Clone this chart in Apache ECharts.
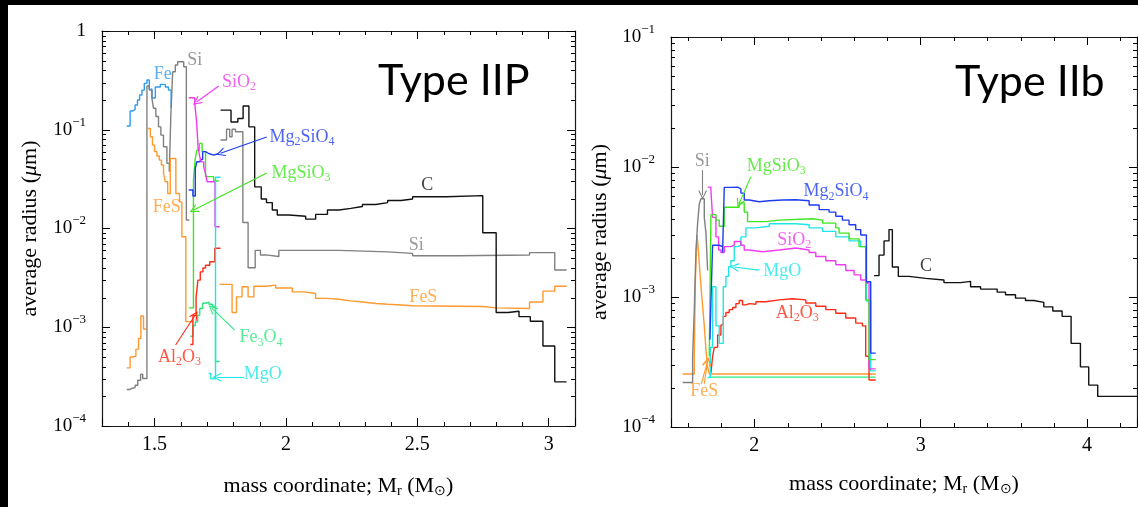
<!DOCTYPE html>
<html><head><meta charset="utf-8">
<script src="https://cdn.jsdelivr.net/npm/echarts@6/dist/echarts.min.js"></script>
<style>html,body{margin:0;padding:0;background:#fff}#c{width:1138px;height:507px}</style>
</head><body><div id="c"></div>
<script>
// ---------------- Type IIP (left panel) data: bin edges (x) and radius values (y) ----------------
const IIP_Fe_x = [1.394,1.407,1.417,1.426,1.435,1.443,1.452,1.461,1.471,1.480,1.490,1.503,1.522,1.541,1.553,1.563];
const IIP_Fe_y = [0.109,0.155,0.160,0.178,0.200,0.225,0.252,0.295,0.319,0.258,0.210,0.271,0.288,0.271,0.252,0.166];
const IIP_Si1_x = [1.394,1.405,1.413,1.426,1.436,1.447,1.455,1.471,1.480,1.490,1.496,1.505,1.515,1.524,1.534,1.547,1.556,1.562,1.569,1.579,1.588,1.611,1.621,1.632];
const IIP_Si1_y = [2.34e-4,2.40e-4,2.45e-4,2.59e-4,2.91e-4,3.35e-4,3.03e-4,0.277,0.252,0.208,0.165,0.136,0.107,0.0883,0.0673,0.0457,0.0375,0.141,0.387,0.453,0.489,0.435,0.0122,0.0122];
const IIP_Si2_x = [1.751,1.774,1.786,1.795,1.808,1.836,1.856,1.883,1.903,1.923,1.973,2.202,2.387,2.482,2.660,2.927,3.023,3.068];
const IIP_Si2_y = [0.0787,0.101,0.085,0.101,0.0955,0.0115,0.0040,0.0060,0.0054,0.0052,0.0060,0.0058,0.0056,0.0053,0.0054,0.0057,0.0038,0.0038];
const IIP_C_x = [1.751,1.791,1.817,1.837,1.859,1.881,1.906,1.926,1.948,1.967,2.011,2.075,2.113,2.158,2.202,2.247,2.291,2.342,2.387,2.438,2.482,2.610,2.749,2.800,2.845,2.887,2.930,2.978,3.023,3.068];
const IIP_C_y = [0.158,0.120,0.130,0.174,0.107,0.0264,0.0199,0.0183,0.0154,0.0137,0.0133,0.01245,0.0139,0.0154,0.0160,0.0167,0.0175,0.0183,0.0192,0.0199,0.0210,0.0215,0.00906,0.00141,0.00145,0.00128,0.00115,0.000645,0.00028,0.00028];
const IIP_FeS1_x = [1.394,1.407,1.417,1.429,1.439,1.448,1.458,1.468];
const IIP_FeS1_y = [3.88e-4,5.0e-4,5.1e-4,6.0e-4,7.7e-4,1.3e-3,9.6e-4,9.6e-4];
const IIP_FeS2_x = [1.474,1.484,1.492,1.500,1.509,1.518,1.526,1.534,1.541,1.550,1.560,1.581,1.595,1.604,1.619,1.649];
const IIP_FeS2_y = [0.103,0.085,0.070,0.060,0.0542,0.0493,0.0440,0.0362,0.0297,0.0226,0.0512,0.0226,0.0186,0.00824,0.00114,0.00114];
const IIP_FeS3_x = [1.747,1.795,1.812,1.833,1.856,1.878,1.923,1.961,2.024,2.069,2.113,2.158,2.202,2.247,2.291,2.342,2.387,2.438,2.482,2.749,2.800,2.927,2.978,3.023,3.068];
const IIP_FeS3_y = [0.00272,0.00141,0.00203,0.00257,0.00203,0.00260,0.00267,0.00250,0.00228,0.00220,0.00196,0.00192,0.00185,0.00180,0.00174,0.00171,0.00168,0.00165,0.00162,0.00157,0.00155,0.00180,0.00232,0.00260,0.00260];
const IIP_SiO2_x = [1.630,1.653,1.660,1.666,1.672,1.678,1.687,1.694,1.700,1.730,1.748];
const IIP_SiO2_y = [0.211,0.185,0.12,0.0648,0.0533,0.0473,0.0421,0.0362,0.0297,0.0104,0.0104];
const IIP_Mg2SiO4_x = [1.630,1.646,1.655,1.661,1.674,1.683,1.694,1.706,1.725,1.744];
const IIP_Mg2SiO4_y = [0.0245,0.0213,0.0406,0.0474,0.050,0.060,0.0575,0.0554,0.0575,0.0575];
const IIP_MgSiO3_x = [1.630,1.648,1.655,1.661,1.671,1.681,1.694,1.725,1.744];
const IIP_MgSiO3_y = [0.00157,0.031,0.0513,0.062,0.0727,0.060,0.0335,0.0303,0.0303];
const IIP_Fe3O4_x = [1.636,1.646,1.655,1.664,1.672,1.683,1.694,1.707,1.720,1.732,1.748];
const IIP_Fe3O4_y = [8.1e-4,1.04e-3,1.13e-3,1.32e-3,1.55e-3,1.75e-3,1.80e-3,1.71e-3,1.62e-3,4.5e-4,4.5e-4];
const IIP_Al2O3_x = [1.636,1.646,1.658,1.665,1.674,1.684,1.694,1.710,1.729,1.751];
const IIP_Al2O3_y = [6.7e-4,1.32e-3,1.99e-3,3.0e-3,3.64e-3,3.98e-3,4.25e-3,4.6e-3,6.3e-3,6.3e-3];
const IIP_MgO_x = [1.706,1.714,1.732,1.751];
const IIP_MgO_y = [3.4e-4,3.0e-4,0.033,0.033];

// ---------------- Type IIb (right panel) data ----------------
const IIb_Si_x = [1.570,1.630,1.640,1.650,1.660,1.670,1.680,1.700,1.710,1.720,1.724];
const IIb_Si_y = [2.2e-4,3.5e-4,8.0e-4,0.0023,0.0037,0.0052,0.0057,0.0041,0.0031,0.0016,0.0016];
const IIb_FeS_x = [1.570,1.640,1.646,1.656,1.666,1.674,1.682,1.690,1.700,1.710,1.720,1.730,2.730];
const IIb_FeS_y = [2.56e-4,3.5e-4,1.28e-3,3.0e-3,2.2e-3,1.52e-3,1.13e-3,8.5e-4,6.0e-4,3.9e-4,2.9e-4,2.56e-4,2.56e-4];
const IIb_Mg2SiO4_x = [1.734,1.740,1.750,1.790,1.810,1.820,1.860,1.900,1.920,1.940,1.970,2.030,2.090,2.170,2.250,2.330,2.390,2.450,2.490,2.530,2.570,2.610,2.640,2.674,2.700,2.730];
const IIb_Mg2SiO4_y = [4.7e-4,9.3e-4,0.0025,0.00244,0.0022,0.00697,0.0070,0.0068,0.0063,0.00557,0.0054,0.0055,0.00557,0.0056,0.0055,0.0051,0.0047,0.0045,0.00418,0.0039,0.0036,0.0033,0.0030,0.00131,3.7e-4,3.7e-4];
const IIb_MgSiO3_x = [1.730,1.740,1.770,1.790,1.820,1.910,1.940,1.960,2.070,2.150,2.350,2.410,2.490,2.510,2.570,2.630,2.670,2.690,2.730];
const IIb_MgSiO3_y = [3.5e-4,0.0043,0.0039,0.0035,0.0049,0.0053,0.0045,0.0038,0.0039,0.0040,0.0039,0.0037,0.0034,0.0031,0.0028,0.00244,9.5e-4,3.3e-4,3.3e-4];
const IIb_SiO2_x = [1.720,1.740,1.750,1.770,1.786,1.800,1.820,1.860,1.880,1.920,1.940,1.970,2.050,2.150,2.250,2.330,2.370,2.430,2.490,2.550,2.600,2.640,2.670,2.690,2.730];
const IIb_SiO2_y = [0.0070,0.0065,0.0041,0.0029,0.0023,0.0022,0.00244,0.0025,0.00267,0.0025,0.0023,0.00223,0.0023,0.00238,0.0023,0.0022,0.00205,0.0019,0.00177,0.0016,0.00148,0.00135,0.00128,2.8e-4,2.8e-4];
const IIb_MgO_x = [1.720,1.736,1.750,1.770,1.790,1.814,1.830,1.846,1.860,1.880,1.900,1.920,1.950,2.010,2.090,2.250,2.330,2.410,2.490,2.570,2.640,2.674,2.700,2.730];
const IIb_MgO_y = [2.4e-4,4.1e-4,0.0012,6e-4,4.4e-4,0.0012,0.00144,0.00171,0.0019,0.00244,0.0025,0.0029,0.0034,0.0035,0.00366,0.0036,0.0034,0.0032,0.0029,0.0027,0.00244,9.3e-4,2.7e-4,2.7e-4];
const IIb_Al2O3_x = [1.740,1.750,1.760,1.780,1.800,1.814,1.830,1.850,1.870,1.890,1.910,1.930,1.950,1.970,2.010,2.070,2.150,2.230,2.310,2.370,2.430,2.490,2.550,2.610,2.650,2.670,2.690,2.730];
const IIb_Al2O3_y = [2.6e-4,3.5e-4,4.1e-4,5.1e-4,6.1e-4,7.1e-4,7.6e-4,8.0e-4,8.3e-4,8.9e-4,9.4e-4,8.7e-4,8.9e-4,8.8e-4,9.2e-4,9.5e-4,9.7e-4,9.5e-4,9.0e-4,8.5e-4,8.0e-4,7.5e-4,6.9e-4,6.3e-4,6.0e-4,3.5e-4,2.3e-4,2.3e-4];
const IIb_Fe3O4_x = [1.730,2.730];
const IIb_Fe3O4_y = [2.42e-4,2.42e-4];
const IIb_C_x = [2.720,2.750,2.780,2.810,2.830,2.866,2.930,3.030,3.140,3.240,3.300,3.360,3.460,3.510,3.570,3.630,3.680,3.740,3.794,3.850,3.904,3.960,4.010,4.064,4.300];
const IIb_C_y = [0.00146,0.0021,0.0027,0.0033,0.0017,0.00144,0.00139,0.00135,0.00129,0.00132,0.00120,0.00115,0.00109,0.00104,9.8e-4,9.4e-4,9.1e-4,8.4e-4,7.8e-4,7.1e-4,4.4e-4,2.9e-4,2.1e-4,1.72e-4,1.72e-4];

// ---------------- annotations (data coordinates) ----------------
const IIP_label_text = ['Fe','Si','SiO{s|2}','Mg{s|2}SiO{s|4}','MgSiO{s|3}','C','Si','FeS','FeS','Al{s|2}O{s|3}','Fe{s|3}O{s|4}','MgO'];
const IIP_label_kind = ['Fe','Si','SiO2','Mg2SiO4','MgSiO3','C','Si','FeS','FeS','Al2O3','Fe3O4','MgO'];
const IIP_label_x = [1.531,1.653,1.821,2.061,2.057,2.538,2.496,1.546,2.523,1.595,1.905,1.912];
const IIP_label_y = [0.367,0.508,0.304,0.0843,0.0364,0.0275,0.00679,0.0165,0.00202,4.98e-4,7.9e-4,3.35e-4];
const IIP_arrow_kind = ['SiO2','Mg2SiO4','MgSiO3','Al2O3','Fe3O4','MgO'];
const IIP_arrow_from = [[1.744,0.277],[1.927,0.0843],[1.927,0.0364],[1.580,6.6e-4],[1.805,9.35e-4],[1.840,3.12e-4]];
const IIP_arrow_to   = [[1.660,0.191],[1.751,0.0577],[1.649,0.0154],[1.655,1.33e-3],[1.719,1.55e-3],[1.737,3.12e-4]];

const IIb_label_text = ['Si','MgSiO{s|3}','Mg{s|2}SiO{s|4}','SiO{s|2}','MgO','Al{s|2}O{s|3}','C','FeS'];
const IIb_label_kind = ['Si','MgSiO3','Mg2SiO4','SiO2','MgO','Al2O3','C','FeS'];
const IIb_label_x = [1.688,2.132,2.492,2.240,2.168,2.258,3.032,1.700];
const IIb_label_y = [0.0111,0.0102,0.00645,0.00275,0.00158,7.55e-4,0.00173,1.87e-4];
const IIb_arrow_kind = ['Si','MgSiO3','MgO','FeS','FeS'];
const IIb_arrow_from = [[1.690,0.00946],[1.980,0.0084],[2.030,0.00161],[1.682,2.15e-4],[1.700,2.15e-4]];
const IIb_arrow_to   = [[1.690,0.00608],[1.910,0.00525],[1.880,0.0017],[1.720,3.19e-4],[1.720,3.19e-4]];

// minor tick values
const IIP_xminor = [1.4,1.6,1.7,1.8,1.9,2.1,2.2,2.3,2.4,2.6,2.7,2.8,2.9];
const IIb_xminor = [1.6,1.8,2.2,2.4,2.6,2.8,3.2,3.4,3.6,3.8,4.2];
const IIP_decades = [-4,-3,-2,-1];
const IIb_decades = [-4,-3,-2];

// ---------------- styling ----------------
const COLOR = {Fe:'#2f9cf0', Si:'#808080', SiO2:'#f03cf0', Mg2SiO4:'#1e3cf0', MgSiO3:'#3ee61e', FeS:'#ff9a2e',
  C:'#111111', Al2O3:'#ff2a14', Fe3O4:'#2ee67c', MgO:'#1ee6e6'};
const SERIF = 'Liberation Serif';
const ARROW = 'path://M5,0 L10,10 L8.6,10 L5,2.6 L1.4,10 L0,10 Z';

function logMinor(decs){ const o=[]; decs.forEach(d=>{for(let k=2;k<=9;k++) o.push(+(k*Math.pow(10,d)).toPrecision(3));}); return o; }

function stepLine(xs, ys, kind, axis) {
  return {type:'line', xAxisIndex:axis, yAxisIndex:axis, data: xs.map((x,i)=>[x, ys[i]]), step:'end',
    symbol:'none', showSymbol:false, silent:true, animation:false, z:3,
    lineStyle:{color:COLOR[kind], width:1.4}, itemStyle:{color:COLOR[kind]}};
}

function annot(texts, kinds, xs, ys, akind, afrom, ato, axis) {
  return {type:'scatter', xAxisIndex:axis, yAxisIndex:axis, symbolSize:1, silent:true, animation:false, z:10,
    itemStyle:{color:'rgba(0,0,0,0)'},
    label:{show:true, position:'inside', fontFamily:SERIF, fontSize:18, lineHeight:22,
      rich:{s:{fontFamily:SERIF, fontSize:12, lineHeight:12, verticalAlign:'bottom'}}},
    data: texts.map((t,i)=>({value:[xs[i], ys[i]], label:{formatter:t, color:COLOR[kinds[i]]}})),
    markLine:{silent:true, animation:false, symbol:['none', ARROW], symbolSize:9, label:{show:false},
      lineStyle:{type:'solid', width:1.1},
      data: akind.map((k,i)=>[{coord:afrom[i], lineStyle:{color:COLOR[k], type:'solid', width:1.1}, itemStyle:{color:COLOR[k]}}, {coord:ato[i]}])}
  };
}

function minorTicks(xvals, yvals, xmin, ymin, axis) {
  const data = xvals.map(v=>[v, ymin, 0]).concat(yvals.map(v=>[xmin, v, 1]));
  return {type:'custom', coordinateSystem:'cartesian2d', xAxisIndex:axis, yAxisIndex:axis, silent:true, clip:false, animation:false, z:5,
    encode:{x:0, y:1}, data,
    renderItem(params, api){
      const cs = params.coordSys;
      const p = api.coord([api.value(0), api.value(1)]);
      const st = {stroke:'#000', lineWidth:1};
      if (api.value(2) === 0) {
        const x = Math.round(p[0]) + 0.5;
        return {type:'group', children:[
          {type:'line', shape:{x1:x, y1:cs.y+cs.height, x2:x, y2:cs.y+cs.height-4}, style:st},
          {type:'line', shape:{x1:x, y1:cs.y, x2:x, y2:cs.y+4}, style:st}]};
      }
      const y = Math.round(p[1]) + 0.5;
      return {type:'group', children:[
        {type:'line', shape:{x1:cs.x, y1:y, x2:cs.x+4, y2:y}, style:st},
        {type:'line', shape:{x1:cs.x+cs.width, y1:y, x2:cs.x+cs.width-4, y2:y}, style:st}]};
    }};
}

const AXLINE = {show:true, onZero:false, lineStyle:{color:'#1a1a1a', width:1.2}};
const TICK = {show:true, inside:true, length:8, lineStyle:{color:'#000', width:1}};
const XNAME = 'mass coordinate; M{s|r} (M{s|⊙})';
const YNAME = 'average radius ({i|μ}m)';
const NAMESTYLE = {fontFamily:SERIF, fontSize:22, color:'#000', lineHeight:24,
  rich:{s:{fontFamily:SERIF, fontSize:14, lineHeight:14, verticalAlign:'bottom'}, i:{fontFamily:SERIF, fontSize:22, fontStyle:'italic'}}};

function xAx(grid, min, max, step, pos, labels, nameGap) {
  return {type:'value', gridIndex:grid, position:pos, min, max, minInterval:step, maxInterval:step,
    axisLine:AXLINE, axisTick:TICK, splitLine:{show:false}, minorTick:{show:false},
    axisLabel:{show:labels, margin:9, fontFamily:SERIF, fontSize:20, color:'#000',
      formatter: v => (Math.abs(v/step - Math.round(v/step)) < 1e-6 ? String(+v.toFixed(2)) : '')},
    name: labels ? XNAME : '', nameLocation:'middle', nameGap, nameTextStyle:NAMESTYLE};
}
function yAx(grid, min, max, pos, labels, nameGap) {
  return {type:'log', logBase:10, gridIndex:grid, position:pos, min, max,
    axisLine:AXLINE, axisTick:TICK, splitLine:{show:false}, minorTick:{show:false},
    axisLabel:{show:labels, margin:labels?16:0,
      formatter: v => { const e = Math.round(Math.log10(v)); return e === 0 ? '{b|1}' : '{b|10}{s|−' + (-e) + '}'; },
      rich:{b:{fontFamily:SERIF, fontSize:19, lineHeight:28, color:'#000'},
            s:{fontFamily:SERIF, fontSize:13, lineHeight:13, verticalAlign:'top', color:'#000'}}},
    name: labels ? YNAME : '', nameLocation:'middle', nameRotate:90, nameGap, nameTextStyle:NAMESTYLE};
}

const chart = echarts.init(document.getElementById('c'), null, {renderer:'canvas'});
const option = {
  backgroundColor:'#ffffff',
  animation:false,
  grid:[
    {left:102, top:31, width:473, height:395, outerBoundsMode:'none', containLabel:false},
    {left:671, top:37, width:466, height:390, outerBoundsMode:'none', containLabel:false}
  ],
  xAxis:[
    xAx(0, 1.3, 3.1, 0.5, 'bottom', true, 48),
    xAx(0, 1.3, 3.1, 0.5, 'top', false, 0),
    xAx(1, 1.5, 4.3, 1, 'bottom', true, 45),
    xAx(1, 1.5, 4.3, 1, 'top', false, 0)
  ],
  yAxis:[
    yAx(0, 1e-4, 1, 'left', true, 60),
    yAx(0, 1e-4, 1, 'right', false, 0),
    yAx(1, 1e-4, 1e-1, 'left', true, 59),
    yAx(1, 1e-4, 1e-1, 'right', false, 0)
  ],
  graphic:[
    {type:'rect', left:0, top:0, shape:{width:1138, height:5}, style:{fill:'#000'}, z:100},
    {type:'rect', left:0, top:0, shape:{width:8, height:507}, style:{fill:'#000'}, z:100},
    {type:'text', left:378, top:60, style:{text:'Type IIP', fontFamily:'Lato', fontSize:43, fill:'#000'}, z:50},
    {type:'text', left:955, top:61, style:{text:'Type IIb', fontFamily:'Lato', fontSize:43, fill:'#000'}, z:50}
  ],
  series:[
    stepLine(IIP_Fe_x, IIP_Fe_y, 'Fe', 0),
    stepLine(IIP_Si1_x, IIP_Si1_y, 'Si', 0),
    stepLine(IIP_Si2_x, IIP_Si2_y, 'Si', 0),
    stepLine(IIP_FeS1_x, IIP_FeS1_y, 'FeS', 0),
    stepLine(IIP_FeS2_x, IIP_FeS2_y, 'FeS', 0),
    stepLine(IIP_FeS3_x, IIP_FeS3_y, 'FeS', 0),
    stepLine(IIP_C_x, IIP_C_y, 'C', 0),
    stepLine(IIP_Fe3O4_x, IIP_Fe3O4_y, 'Fe3O4', 0),
    stepLine(IIP_Al2O3_x, IIP_Al2O3_y, 'Al2O3', 0),
    stepLine(IIP_MgSiO3_x, IIP_MgSiO3_y, 'MgSiO3', 0),
    stepLine(IIP_Mg2SiO4_x, IIP_Mg2SiO4_y, 'Mg2SiO4', 0),
    stepLine(IIP_SiO2_x, IIP_SiO2_y, 'SiO2', 0),
    stepLine(IIP_MgO_x, IIP_MgO_y, 'MgO', 0),
    annot(IIP_label_text, IIP_label_kind, IIP_label_x, IIP_label_y, IIP_arrow_kind, IIP_arrow_from, IIP_arrow_to, 0),
    minorTicks(IIP_xminor, logMinor(IIP_decades), 1.3, 1e-4, 0),

    stepLine(IIb_C_x, IIb_C_y, 'C', 2),
    stepLine(IIb_Fe3O4_x, IIb_Fe3O4_y, 'Fe3O4', 2),
    stepLine(IIb_FeS_x, IIb_FeS_y, 'FeS', 2),
    stepLine(IIb_Si_x, IIb_Si_y, 'Si', 2),
    stepLine(IIb_Al2O3_x, IIb_Al2O3_y, 'Al2O3', 2),
    stepLine(IIb_MgO_x, IIb_MgO_y, 'MgO', 2),
    stepLine(IIb_SiO2_x, IIb_SiO2_y, 'SiO2', 2),
    stepLine(IIb_MgSiO3_x, IIb_MgSiO3_y, 'MgSiO3', 2),
    stepLine(IIb_Mg2SiO4_x, IIb_Mg2SiO4_y, 'Mg2SiO4', 2),
    annot(IIb_label_text, IIb_label_kind, IIb_label_x, IIb_label_y, IIb_arrow_kind, IIb_arrow_from, IIb_arrow_to, 2),
    minorTicks(IIb_xminor, logMinor(IIb_decades), 1.5, 1e-4, 2)
  ]
};
chart.setOption(option);
</script></body></html>
